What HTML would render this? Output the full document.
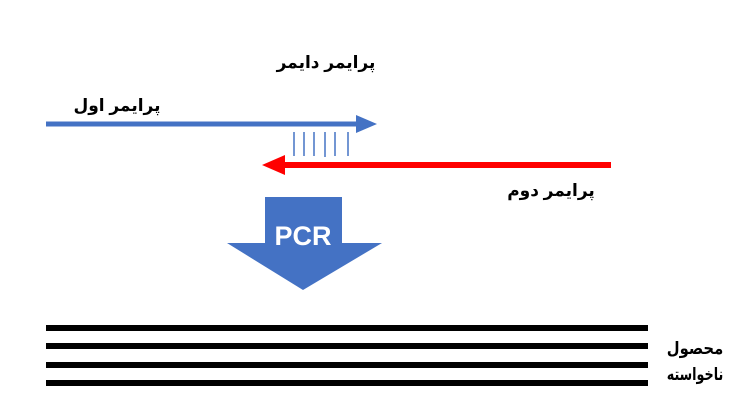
<!DOCTYPE html>
<html><head><meta charset="utf-8"><style>
body{margin:0;width:750px;height:401px;background:#fff;overflow:hidden}
text{font-family:"Liberation Sans","DejaVu Sans",sans-serif;font-weight:bold;font-size:17px;fill:#000}
</style></head><body>
<svg width="750" height="401" xmlns="http://www.w3.org/2000/svg">
<text x="326" y="68" text-anchor="middle">پرایمر دایمر</text>
<text x="117" y="111" text-anchor="middle">پرایمر اول</text>
<rect x="46" y="121.5" width="312" height="5" fill="#4472c4"/>
<polygon points="356,115 377,124 356,133" fill="#4472c4"/>
<g stroke="#4472c4" stroke-width="1.5">
<line x1="294" y1="132" x2="294" y2="156"/><line x1="304" y1="132" x2="304" y2="156"/>
<line x1="314" y1="132" x2="314" y2="156"/><line x1="325" y1="132" x2="325" y2="157"/>
<line x1="335" y1="132" x2="335" y2="156"/><line x1="348" y1="132" x2="348" y2="156"/>
</g>
<rect x="283" y="162" width="328" height="6" fill="#ff0000"/>
<polygon points="285,155 262,165 285,175" fill="#ff0000"/>
<text x="551" y="196" text-anchor="middle">پرایمر دوم</text>
<polygon points="265,197 342,197 342,243 382,243 303,290 227,243 265,243" fill="#4472c4"/>
<text x="303" y="245" text-anchor="middle" style="fill:#fff;font-size:27px">PCR</text>
<g fill="#000">
<rect x="46" y="325" width="602" height="6"/>
<rect x="46" y="343" width="602" height="6"/>
<rect x="46" y="362" width="602" height="6"/>
<rect x="46" y="380" width="602" height="6"/>
</g>
<text transform="translate(695,354) scale(0.87,1)" text-anchor="middle">محصول</text>
<text transform="translate(695,380) scale(0.75,1)" text-anchor="middle">ناخواسته</text>
</svg>
</body></html>
